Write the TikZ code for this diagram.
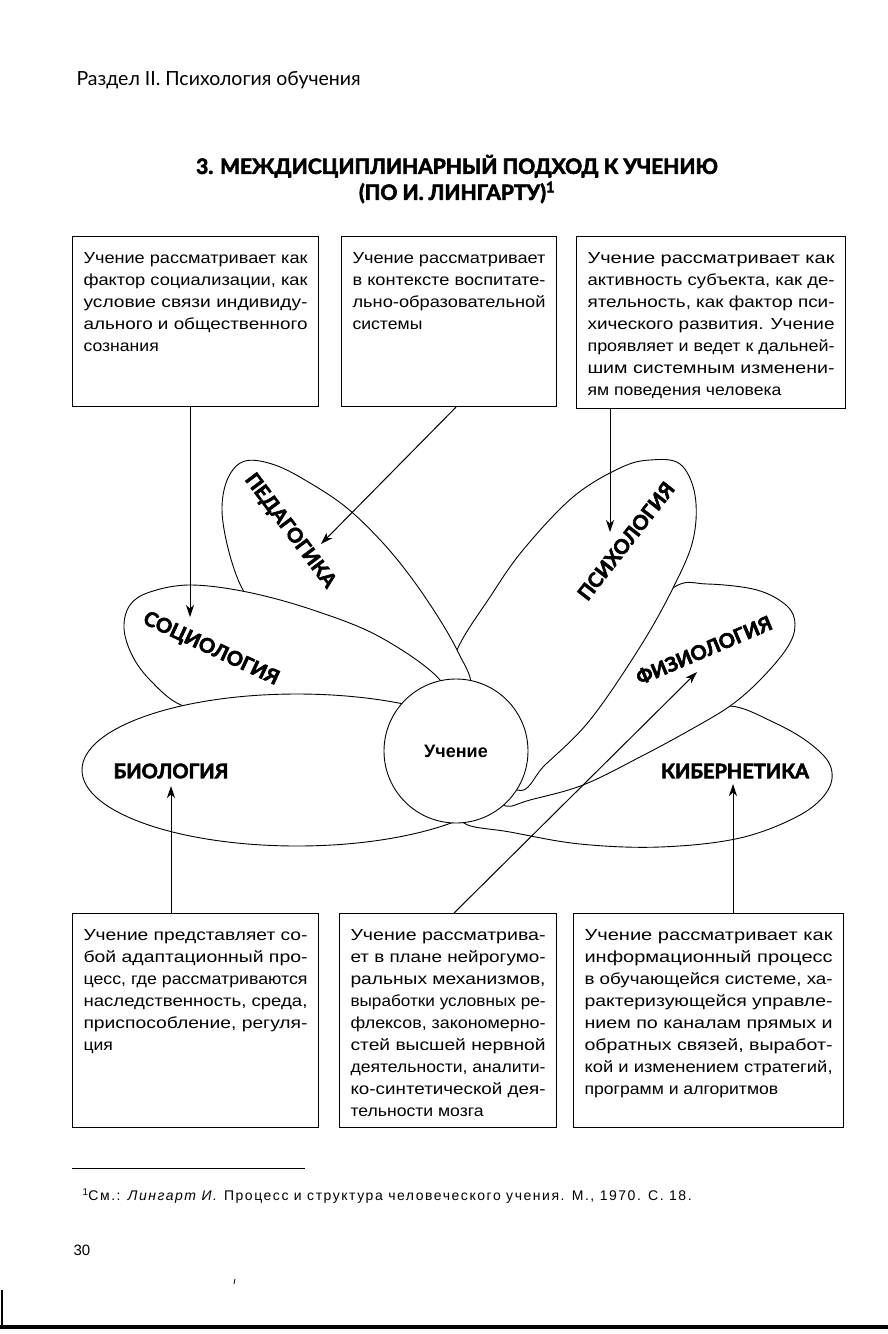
\documentclass[tikz,border=0pt]{standalone}
\usepackage{fontspec}
\usepackage{graphicx}
\setmainfont{Liberation Sans}
\newfontfamily\bodyfont{Liberation Sans}[FakeStretch=1.1]
\newfontfamily\rubfont{Lato}[BoldFeatures={FakeBold=3}]
\usetikzlibrary{arrows.meta}
\newcommand{\boxtext}[3]{\parbox[c][#2][t]{#1}{\hfuzz=20pt\strut #3}}
\newcommand{\jl}[1]{\resizebox{\hsize}{\height}{#1}}

\begin{document}
\begin{tikzpicture}[
  x=1pt, y=-1pt,
  infobox/.style={draw, line width=1.1pt, inner xsep=11pt, inner ysep=12pt,
                  anchor=north west, font=\bodyfont\fontsize{16}{22}\selectfont},
  petal/.style={draw, fill=white, line width=0.9pt},
  plabel/.style={inner sep=0pt, font=\rubfont\bfseries\fontsize{20}{20}\selectfont},
  arr/.style={-{Stealth[length=12pt, width=8pt, inset=3.5pt]}, line width=1pt}
]
\useasboundingbox (0,0) rectangle (888,1334);

% page head and title
\node[anchor=west, font=\rubfont\fontsize{19.5}{19.5}\selectfont] (runhead) at (73,80)
  {Раздел II. Психология обучения};
\node[align=center, font=\rubfont\bfseries\fontsize{21}{26}\selectfont] (title) at (457,179)
  {3. МЕЖДИСЦИПЛИНАРНЫЙ ПОДХОД К УЧЕНИЮ\\(ПО И. ЛИНГАРТУ)\textsuperscript{1}};

% upper boxes
\node[infobox] (tsoc) at (72,236) {\boxtext{224pt}{146pt}{\jl{Учение рассматривает как}\\
  \jl{фактор социализации, как}\\ \jl{условие связи индивиду-}\\
  \jl{ального и общественного}\\ сознания}};
\node[infobox] (tped) at (341,236) {\boxtext{193pt}{146pt}{\jl{Учение рассматривает}\\
  \jl{в контексте воспитате-}\\ \jl{льно-образовательной}\\ системы}};
\node[infobox] (tpsy) at (576,236) {\boxtext{247pt}{148pt}{\jl{Учение рассматривает как}\\
  \jl{активность субъекта, как де-}\\ \jl{ятельность, как фактор пси-}\\
  \jl{хического развития. Учение}\\ \jl{проявляет и ведет к дальней-}\\
  \jl{шим системным изменени-}\\ ям поведения человека}};

% petals, back to front
\draw[petal] plot[smooth cycle, tension=0.6] coordinates {(730,706) (773,722) (808,742)
  (830,765) (828,790) (800,815) (740,838) (660,847) (580,844) (510,832) (464,823)
  (470,800) (540,782) (620,752) (690,718)};
\draw[petal] plot[smooth cycle, tension=0.6] coordinates {(673,588) (707,584) (757,590)
  (787,606) (795,625) (787,648) (760,680) (730,706) (690,730) (640,757) (583,785)
  (530,800) (506,806) (495,790) (560,720) (625,640)};
\draw[petal] plot[smooth cycle, tension=0.6] coordinates {(457,650) (490,597) (523,550)
  (573,497) (620,468) (650,460) (680,464) (695,495) (693,540) (673,588) (640,647)
  (590,720) (545,765) (517,790) (470,740) (448,695)};
\draw[petal] plot[smooth cycle, tension=0.6] coordinates {(243,590) (229,552) (222,510)
  (228,478) (245,461) (275,465) (310,483) (347,508) (383,543) (413,580) (440,620)
  (458,652) (471,684) (458,712) (400,680) (320,640) (262,610)};
\draw[petal] plot[smooth cycle, tension=0.6] coordinates {(181,705) (150,680) (132,655)
  (124,628) (130,605) (150,592) (190,585) (247,592) (313,610) (380,637) (440,680)
  (445,715) (380,712) (300,712) (225,712)};
\draw[petal] (297,770) ellipse [x radius=215, y radius=76];
\node[circle, draw, fill=white, line width=0.9pt, minimum size=144pt, inner sep=0pt,
      font=\bfseries\fontsize{18}{18}\selectfont] (learn) at (456,751) {Учение};

% petal names
\node[plabel, rotate=-53] (lped) at (290,531) {ПЕДАГОГИКА};
\node[plabel, rotate=-25] (lsoc) at (211,649) {СОЦИОЛОГИЯ};
\node[plabel, rotate=52] (lpsy) at (626,541) {ПСИХОЛОГИЯ};
\node[plabel, rotate=23] (lphys) at (704,650) {ФИЗИОЛОГИЯ};
\node[plabel] (lbio) at (171,771) {БИОЛОГИЯ};
\node[plabel] (lcyb) at (735,771) {КИБЕРНЕТИКА};

% lower boxes
\node[infobox] (tbio) at (72,913) {\boxtext{224pt}{190pt}{\jl{Учение представляет со-}\\
  \jl{бой адаптационный про-}\\ \jl{цесс, где рассматриваются}\\
  \jl{наследственность, среда,}\\ \jl{приспособление, регуля-}\\ ция}};
\node[infobox] (tphys) at (339,913) {\boxtext{195pt}{190pt}{\jl{Учение рассматрива-}\\
  \jl{ет в плане нейрогумо-}\\ \jl{ральных механизмов,}\\
  \jl{выработки условных ре-}\\ \jl{флексов, закономерно-}\\
  \jl{стей высшей нервной}\\ \jl{деятельности, аналити-}\\
  \jl{ко-синтетической дея-}\\ тельности мозга}};
\node[infobox] (tcyb) at (573,913) {\boxtext{248pt}{190pt}{\jl{Учение рассматривает как}\\
  \jl{информационный процесс}\\ \jl{в обучающейся системе, ха-}\\
  \jl{рактеризующейся управле-}\\ \jl{нием по каналам прямых и}\\
  \jl{обратных связей, выработ-}\\ \jl{кой и изменением стратегий,}\\
  программ и алгоритмов}};

% arrows from boxes to the petals
\coordinate (socend) at (190,617);
\coordinate (pedend) at (321,544);
\coordinate (psyend) at (610,532);
\coordinate (physend) at (697,672);
\coordinate (bioend) at (171,786);
\coordinate (cybend) at (733,784);
\draw[arr] (tsoc.south -| socend) -- (socend);
\draw[arr] ([xshift=7pt]tped.south) -- (pedend);
\draw[arr] (tpsy.south -| psyend) -- (psyend);
\draw[arr] ([xshift=6pt]tphys.north) -- (physend);
\draw[arr] (tbio.north -| bioend) -- (bioend);
\draw[arr] (tcyb.north -| cybend) -- (cybend);

% footnote and page foot
\draw[line width=0.8pt] (72,1168) -- (305,1168);
\node[anchor=west, font=\addfontfeature{LetterSpace=11}\fontsize{14}{14}\selectfont] (fnote) at (79,1196)
  {\textsuperscript{1}См.: \textit{Лингарт И.} Процесс и структура человеческого учения. М., 1970. С. 18.};
\node[anchor=west, font=\fontsize{15}{15}\selectfont] (pagenum) at (70,1250) {30};
\draw[line width=0.8pt] (235,1279) -- (234,1284);
\draw[line width=1.5pt] (2,1290) -- (2,1327);
\draw[line width=4pt] (0,1327) -- (888,1327);
\end{tikzpicture}
\end{document}
